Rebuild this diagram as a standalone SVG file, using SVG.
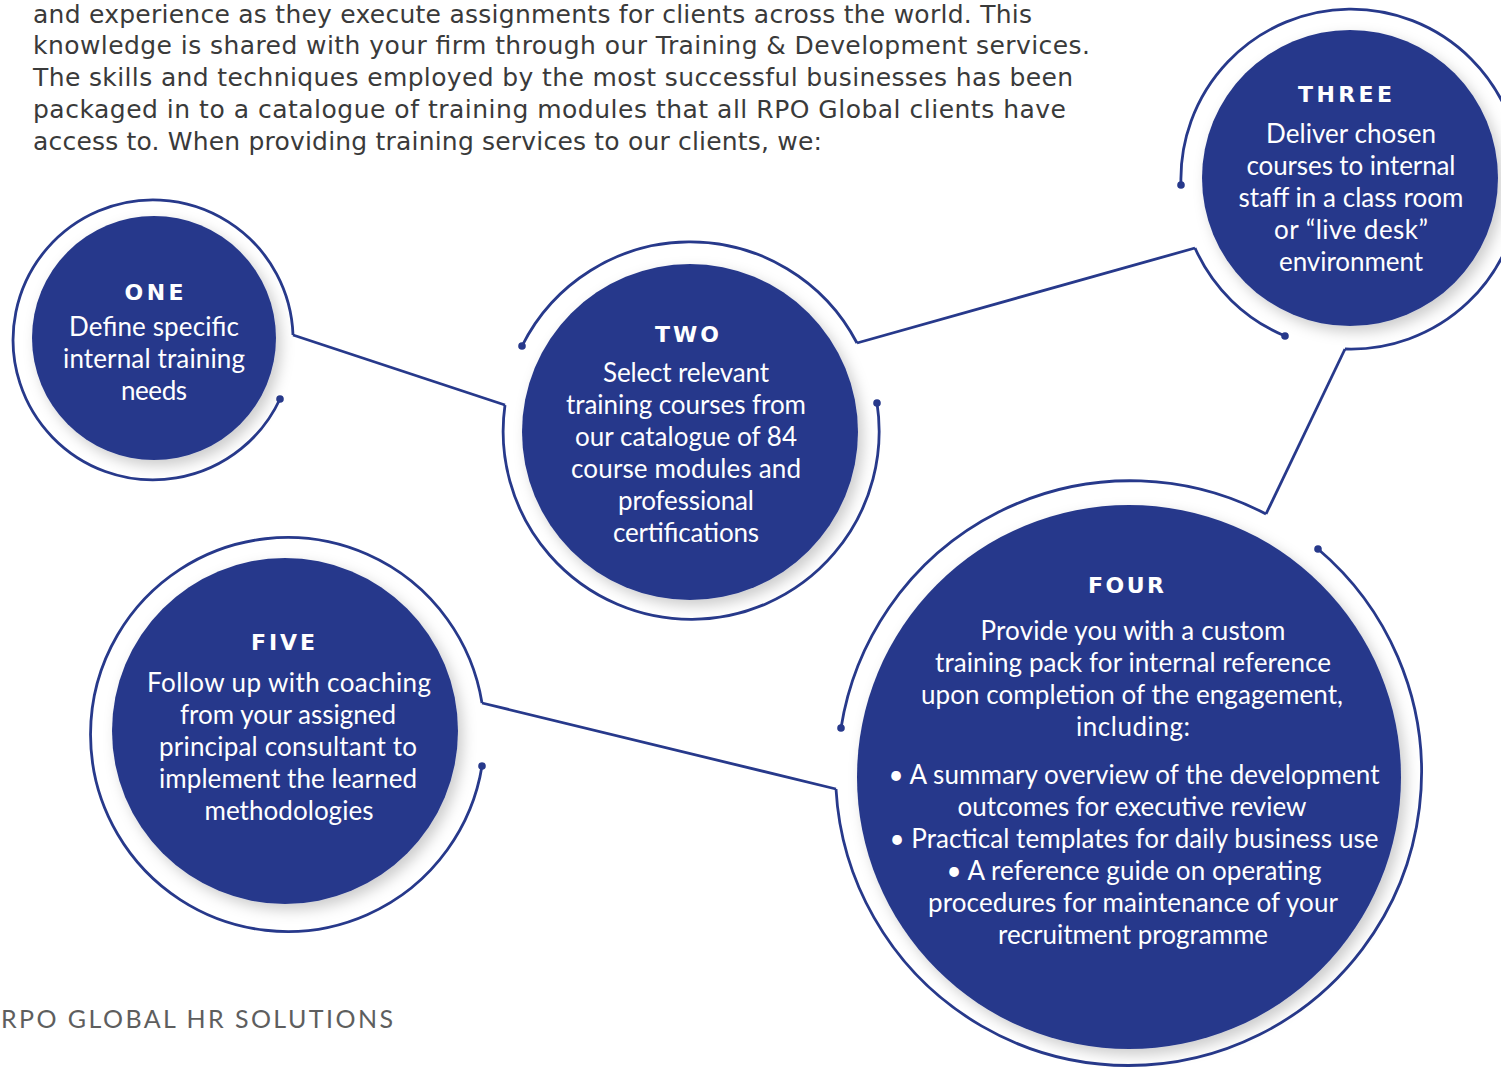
<svg xmlns="http://www.w3.org/2000/svg" width="1501" height="1067" viewBox="0 0 1501 1067">
<defs>
<filter id="sh" x="-20%" y="-20%" width="150%" height="150%">
<feDropShadow dx="5" dy="6" stdDeviation="7" flood-color="#000" flood-opacity="0.2"/>
</filter>
</defs>
<style>
.ring{fill:none;stroke:#27398b;stroke-width:2.8}
.conn{fill:none;stroke:#27398b;stroke-width:2.8}
.dot{fill:#27398b}
.disc{fill:#27398b;filter:url(#sh)}
.hdr{font-family:"DejaVu Sans","Liberation Sans",sans-serif;font-size:25px;fill:#3a3a3a}
.ttl{font-family:"DejaVu Sans","Liberation Sans",sans-serif;font-weight:700;font-size:22px;fill:#fff;text-anchor:middle}
.body{font-family:Lato,"Open Sans","Liberation Sans",sans-serif;font-size:26px;fill:#fff;text-anchor:middle}
.foot{font-family:Lato,"Liberation Sans",sans-serif;font-size:25px;fill:#5e5e5e}
</style>
<rect width="1501" height="1067" fill="#fff"/>

<g id="header">
<text class="hdr" x="33" y="23" textLength="999">and experience as they execute assignments for clients across the world. This</text>
<text class="hdr" x="33" y="54" textLength="1057">knowledge is shared with your firm through our Training &amp; Development services.</text>
<text class="hdr" x="33" y="86" textLength="1040">The skills and techniques employed by the most successful businesses has been</text>
<text class="hdr" x="33" y="118" textLength="1033">packaged in to a catalogue of training modules that all RPO Global clients have</text>
<text class="hdr" x="33" y="150" textLength="789">access to. When providing training services to our clients, we:</text>
</g>

<g id="connectors">
<line class="conn" x1="293" y1="335" x2="505" y2="405"/>
<line class="conn" x1="857" y1="343" x2="1195" y2="248"/>
<line class="conn" x1="1345" y1="349" x2="1266" y2="514"/>
<line class="conn" x1="482" y1="703" x2="836" y2="789"/>
</g>

<g id="node-one">
<path class="ring" d="M280,399 A140,140 0 1 1 293,335"/>
<circle class="dot" cx="280" cy="399" r="3.8"/>
<circle class="disc" cx="154" cy="338" r="122"/>
<text class="ttl" x="154" y="300" textLength="59">ONE</text>
<text class="body" x="154" y="336" textLength="170">Define specific</text>
<text class="body" x="154" y="368" textLength="182">internal training</text>
<text class="body" x="154" y="400" textLength="66">needs</text>
</g>

<g id="node-two">
<path class="ring" d="M522,346 A188,188 0 0 1 857,343"/>
<path class="ring" d="M505,405 A188,188 0 1 0 877,403"/>
<circle class="dot" cx="522" cy="346" r="3.8"/>
<circle class="dot" cx="877" cy="403" r="3.8"/>
<circle class="disc" cx="690" cy="432" r="168"/>
<text class="ttl" x="687" y="342" textLength="64">TWO</text>
<text class="body" x="686" y="382" textLength="166">Select relevant</text>
<text class="body" x="686" y="414" textLength="240">training courses from</text>
<text class="body" x="686" y="446" textLength="222">our catalogue of 84</text>
<text class="body" x="686" y="478" textLength="230">course modules and</text>
<text class="body" x="686" y="510" textLength="136">professional</text>
<text class="body" x="686" y="542" textLength="146">certifications</text>
</g>

<g id="node-three">
<path class="ring" d="M1181,185 A170,170 0 1 1 1345,349"/>
<path class="ring" d="M1195,248 A170,170 0 0 0 1285,336"/>
<circle class="dot" cx="1181" cy="185" r="3.8"/>
<circle class="dot" cx="1285" cy="336" r="3.8"/>
<circle class="disc" cx="1350" cy="178" r="148"/>
<text class="ttl" x="1345" y="102" textLength="94">THREE</text>
<text class="body" x="1351" y="143" textLength="170">Deliver chosen</text>
<text class="body" x="1351" y="175" textLength="209">courses to internal</text>
<text class="body" x="1351" y="207" textLength="225">staff in a class room</text>
<text class="body" x="1351" y="239" textLength="154">or “live desk”</text>
<text class="body" x="1351" y="271" textLength="144">environment</text>
</g>

<g id="node-four">
<path class="ring" d="M841,728 A293,293 0 0 1 1266,514"/>
<path class="ring" d="M1318,549 A293,293 0 1 1 836,789"/>
<circle class="dot" cx="841" cy="728" r="3.8"/>
<circle class="dot" cx="1318" cy="549" r="3.8"/>
<circle class="disc" cx="1129" cy="777" r="272"/>
<text class="ttl" x="1126" y="593" textLength="76">FOUR</text>
<text class="body" x="1133" y="640" textLength="305">Provide you with a custom</text>
<text class="body" x="1133" y="672" textLength="396">training pack for internal reference</text>
<text class="body" x="1132" y="704" textLength="422">upon completion of the engagement,</text>
<text class="body" x="1133" y="736" textLength="114">including:</text>
<text class="body" x="1134" y="784" textLength="491">• A summary overview of the development</text>
<text class="body" x="1132" y="816" textLength="349">outcomes for executive review</text>
<text class="body" x="1134" y="848" textLength="489">• Practical templates for daily business use</text>
<text class="body" x="1134" y="880" textLength="375">• A reference guide on operating</text>
<text class="body" x="1133" y="912" textLength="410">procedures for maintenance of your</text>
<text class="body" x="1133" y="944" textLength="270">recruitment programme</text>
</g>

<g id="node-five">
<path class="ring" d="M482,703 A197,197 0 1 0 482,766"/>
<circle class="dot" cx="482" cy="766" r="3.8"/>
<circle class="disc" cx="285" cy="731" r="173"/>
<text class="ttl" x="283" y="650" textLength="64">FIVE</text>
<text class="body" x="289" y="692" textLength="284">Follow up with coaching</text>
<text class="body" x="288" y="724" textLength="216">from your assigned</text>
<text class="body" x="288" y="756" textLength="258">principal consultant to</text>
<text class="body" x="288" y="788" textLength="258">implement the learned</text>
<text class="body" x="289" y="820" textLength="169">methodologies</text>
</g>

<g id="footer">
<text class="foot" x="1" y="1028" textLength="392">RPO GLOBAL HR SOLUTIONS</text>
</g>
</svg>
